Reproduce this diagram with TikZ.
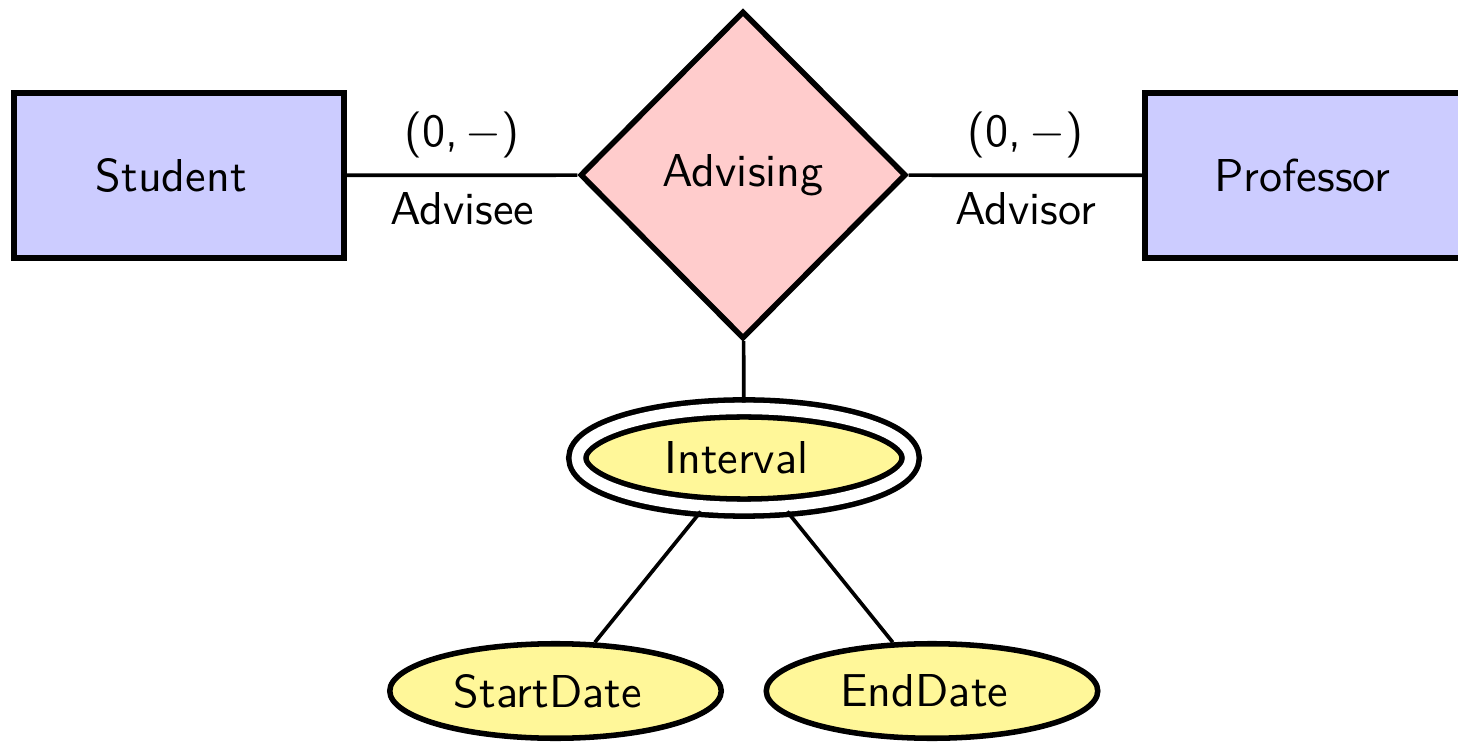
\documentclass[tikz,border=0pt]{standalone}
\usetikzlibrary{shapes.geometric}
\definecolor{entityfill}{RGB}{204,204,255}
\definecolor{relfill}{RGB}{255,204,204}
\definecolor{attrfill}{RGB}{255,247,153}
\tikzset{
  every node/.style={font=\sffamily},
  spacedtext/.style={execute at end node={\hspace{0.333em}}},
  entity/.style={rectangle, draw, very thick, fill=entityfill,
    minimum width=71.6pt, minimum height=35.8pt, spacedtext},
  relation/.style={diamond, draw, very thick, fill=relfill, aspect=1,
    minimum width=70.7pt, minimum height=71.1pt},
  attribute/.style={ellipse, draw, very thick, fill=attrfill,
    minimum width=71.9pt, minimum height=20.5pt, spacedtext},
  multiattribute/.style={ellipse, draw, very thick, fill=attrfill,
    double=white, double distance=2.5pt, outer sep=1.25pt,
    minimum width=72.3pt, minimum height=21.5pt, spacedtext},
  link/.style={thick},
}
\begin{document}
\begin{tikzpicture}[x=0.2169pt, y=-0.2169pt]
  \path[use as bounding box, clip] (0,0) rectangle (1458,744);

  % entities and the relationship
  \node[entity]   (student)   at (179,175.5)  {Student};
  \node[entity]   (professor) at (1310,175.5) {Professor};
  \node[relation] (advising)  at (743,175)    {Advising};

  % attributes of the relationship
  \node[multiattribute] (interval) at (744,458)   {Interval};
  \node[attribute]      (start)    at (555.5,691) {StartDate};
  \node[attribute]      (end)      at (932,691)   {EndDate};

  % roles with their cardinalities
  \draw[link] (student) -- node[above] {(0,\,$-$)} node[below] {Advisee} (advising);
  \draw[link] (advising) -- node[above] {(0,\,$-$)} node[below] {Advisor} (professor);

  \draw[link] (advising) -- (interval);
  \draw[link] (interval) -- (start);
  \draw[link] (interval) -- (end);
\end{tikzpicture}
\end{document}
